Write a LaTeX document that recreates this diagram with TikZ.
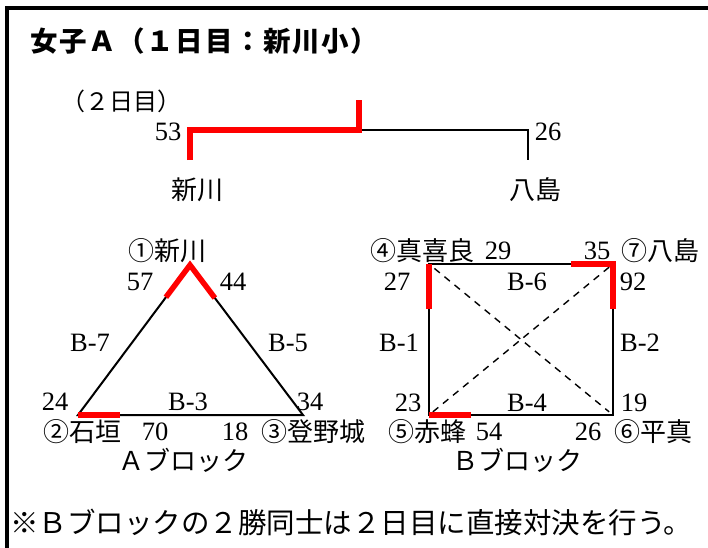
\documentclass[tikz,border=0pt]{standalone}
\usepackage{fontspec}
\setmainfont{Liberation Serif}
\newfontfamily\jp{Noto Sans CJK JP}
\newfontfamily\jptitle{Noto Sans CJK JP}[LetterSpace=6]
\usetikzlibrary{calc}
\begin{document}
\begin{tikzpicture}[x=1pt,y=-1pt,
  jl/.style={font=\jp\fontsize{26}{28}\selectfont, inner sep=0pt},
  nl/.style={font=\fontsize{26.5}{28}\selectfont, inner sep=0pt},
  blk/.style={line width=2pt, draw=black, line join=miter},
  win/.style={line width=5.5pt, draw=red, line cap=butt, line join=miter},
  diag/.style={line width=1.4pt, draw=black, dash pattern=on 7pt off 6pt}
]
\useasboundingbox (0,0) rectangle (708,547);
% frame
\coordinate (fbl) at (7,549);
\coordinate (ftl) at (7,8);
\coordinate (ftr) at (710,8);
\draw[line width=4pt] (fbl) -- (ftl) -- (ftr);

% title
\node[anchor=west, inner sep=0pt, font=\jptitle\bfseries\fontsize{27.5}{30}\selectfont] (title) at (30,41) {女子Ａ（１日目：新川小）};

% day 2 bracket
\node[inner sep=0pt, font=\jp\fontsize{24}{26}\selectfont] (day2) at (121,101) {（２日目）};
\coordinate (s) at (190,160);
\coordinate (sc) at (190,130);
\coordinate (m) at (359,130);
\coordinate (top) at (359,100);
\coordinate (yc) at (528,130);
\coordinate (y) at (528,160);
\draw[blk] (m) -- (yc) -- (y);
\draw[win] (s) -- (sc) -- (m) -- (top);
\node[nl] (n53) at (168,132) {53};
\node[nl] (n26t) at (548,132) {26};
\node[jl] (fsin) at (197,190) {新川};
\node[jl] (fyas) at (535,190) {八島};

% A block
\coordinate (a1) at (190,265);
\coordinate (a2) at (78,415);
\coordinate (a3) at (303,415);
\draw[blk] (a1) -- (a2) -- (a3) -- cycle;
\draw[win] ($(a1)!0.215!(a2)$) -- (a1) -- ($(a1)!0.22!(a3)$);
\draw[win] (a2) -- ($(a2)!0.187!(a3)$);
\node[jl] (t1) at (167,251) {①新川};
\node[jl] (t2) at (82,432) {②石垣};
\node[jl] (t3) at (313,432) {③登野城};
\node[nl] at (140,282) {57};
\node[nl] at (233,282) {44};
\node[nl] at (90,343) {B-7};
\node[nl] at (288,343) {B-5};
\node[nl] at (55,402) {24};
\node[nl] at (188,402) {B-3};
\node[nl] at (310,402) {34};
\node[nl] at (155,432) {70};
\node[nl] at (235,432) {18};
\node[jl] (ablk) at (183,460) {Ａブロック};

% B block
\coordinate (b4) at (429,264);
\coordinate (b7) at (613,264);
\coordinate (b5) at (429,415);
\coordinate (b6) at (613,415);
\draw[blk] (b4) -- (b7) -- (b6) -- (b5) -- cycle;
\draw[diag, shorten <=7pt, shorten >=5pt] (b4) -- (b6);
\draw[diag, shorten <=5pt, shorten >=4pt] (b7) -- (b5);
\draw[win] (b4) -- ($(b4)!0.30!(b5)$);
\draw[win] ($(b7)!0.23!(b4)$) -- (b7) -- ($(b7)!0.30!(b6)$);
\draw[win] (b5) -- ($(b5)!0.23!(b6)$);
\node[jl] (t4) at (422,251) {④真喜良};
\node[jl] (t7) at (660,251) {⑦八島};
\node[jl] (t5) at (427,432) {⑤赤蜂};
\node[jl] (t6) at (653,432) {⑥平真};
\node[nl] at (498,251) {29};
\node[nl] at (597,251) {35};
\node[nl] at (397,282) {27};
\node[nl] at (527,282) {B-6};
\node[nl] at (633,282) {92};
\node[nl] at (399,343) {B-1};
\node[nl] at (640,343) {B-2};
\node[nl] at (408,403) {23};
\node[nl] at (527,403) {B-4};
\node[nl] at (634,403) {19};
\node[nl] at (489,432) {54};
\node[nl] at (588,432) {26};
\node[jl] (bblk) at (517,460) {Ｂブロック};

% note
\node[anchor=west, inner sep=0pt, font=\jp\fontsize{28.5}{30}\selectfont] (note) at (10,522) {※Ｂブロックの２勝同士は２日目に直接対決を行う。};
\end{tikzpicture}
\end{document}
